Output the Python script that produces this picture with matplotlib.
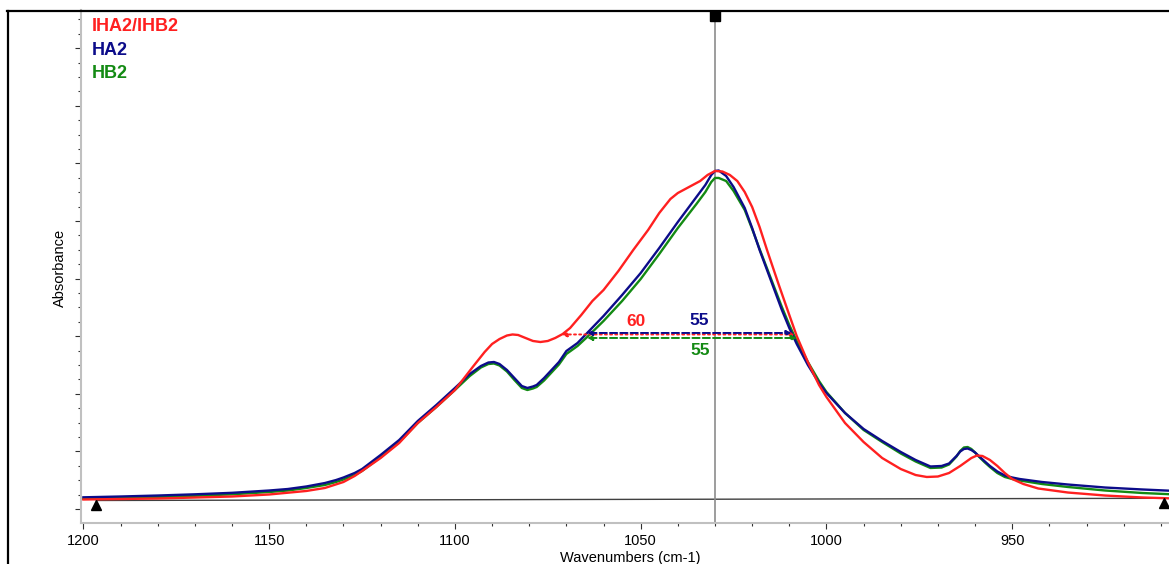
import matplotlib
matplotlib.use("Agg")
import matplotlib.pyplot as plt
from matplotlib.lines import Line2D
from matplotlib.ticker import MultipleLocator, FixedLocator

plt.rcParams['font.family'] = ['Liberation Sans', 'DejaVu Sans']

# --- spectra (wavenumber cm-1, absorbance a.u.) ---
wn_ha2 = [1200, 1190, 1180, 1170, 1160, 1150, 1145, 1140, 1135, 1132, 1130, 1127, 1125,
          1120, 1115, 1110, 1105, 1100, 1096, 1093, 1091, 1089.5, 1088, 1086, 1084, 1082,
          1080.5, 1079, 1078, 1076, 1074, 1072, 1070, 1067, 1064.4, 1060, 1055, 1050, 1045,
          1040, 1035, 1032.6, 1031, 1030, 1029, 1027, 1025, 1022, 1020, 1018, 1015, 1012,
          1010, 1008, 1005, 1002, 1000, 995, 990, 985, 980, 976, 972, 969, 967, 965, 964,
          963, 962, 961, 960, 959, 957.5, 956, 954, 952, 950, 948, 942, 935, 925, 915, 906]
abs_ha2 = [0.0203, 0.0217, 0.0234, 0.0255, 0.0281, 0.0321, 0.0347, 0.0391, 0.0451, 0.0503,
           0.0547, 0.0625, 0.0694, 0.0938, 0.1198, 0.1528, 0.1806, 0.2101, 0.2344, 0.2483,
           0.2543, 0.2552, 0.2517, 0.2413, 0.2274, 0.2135, 0.2101, 0.2127, 0.2153, 0.2274,
           0.2413, 0.2552, 0.2743, 0.2882, 0.3056, 0.3351, 0.3715, 0.4097, 0.4531, 0.4983,
           0.5417, 0.5625, 0.5799, 0.5868, 0.5877, 0.5781, 0.5590, 0.5226, 0.4878, 0.4497,
           0.3976, 0.3455, 0.3142, 0.2865, 0.2500, 0.2188, 0.2014, 0.1667, 0.1389, 0.1181,
           0.0990, 0.0851, 0.0738, 0.0747, 0.0790, 0.0920, 0.0998, 0.1042, 0.1050, 0.1024,
           0.0981, 0.0920, 0.0833, 0.0747, 0.0651, 0.0582, 0.0547, 0.0521, 0.0469, 0.0425,
           0.0373, 0.0339, 0.0313]

wn_hb2 = wn_ha2
abs_hb2 = [0.0177, 0.0191, 0.0208, 0.0229, 0.0255, 0.0295, 0.0321, 0.0365, 0.0417, 0.0469,
           0.0512, 0.0590, 0.0660, 0.0903, 0.1163, 0.1493, 0.1771, 0.2066, 0.2309, 0.2457,
           0.2517, 0.2526, 0.2491, 0.2387, 0.2240, 0.2101, 0.2066, 0.2092, 0.2118, 0.2231,
           0.2370, 0.2509, 0.2691, 0.2830, 0.2986, 0.3264, 0.3611, 0.3993, 0.4427, 0.4878,
           0.5295, 0.5503, 0.5677, 0.5747, 0.5747, 0.5694, 0.5521, 0.5191, 0.4861, 0.4514,
           0.4010, 0.3507, 0.3194, 0.2917, 0.2552, 0.2222, 0.2031, 0.1667, 0.1372, 0.1163,
           0.0964, 0.0825, 0.0712, 0.0720, 0.0773, 0.0911, 0.1007, 0.1068, 0.1076, 0.1042,
           0.0981, 0.0911, 0.0816, 0.0729, 0.0625, 0.0556, 0.0521, 0.0495, 0.0434, 0.0382,
           0.0321, 0.0278, 0.0252]

wn_iha2 = [1200, 1180, 1160, 1150, 1140, 1135, 1130, 1127, 1125, 1120, 1115, 1110, 1105,
           1100, 1095, 1092, 1090, 1088, 1086, 1084.5, 1083, 1081, 1079, 1077, 1075, 1073,
           1071, 1069, 1066, 1063, 1060, 1056, 1052, 1048, 1045, 1042, 1040, 1037, 1034,
           1032, 1030, 1028, 1026, 1024, 1022, 1020, 1018, 1016, 1013, 1010, 1008, 1005,
           1002, 1000, 995, 990, 985, 980, 976, 973, 970, 967, 964, 961, 959.5, 958, 956,
           954, 952, 950, 947, 943, 935, 925, 915, 906]
abs_iha2 = [0.0165, 0.0182, 0.0217, 0.0252, 0.0313, 0.0365, 0.0469, 0.0573, 0.0660, 0.0885,
            0.1146, 0.1493, 0.1771, 0.2066, 0.2483, 0.2726, 0.2865, 0.2951, 0.3012, 0.3030,
            0.3021, 0.2969, 0.2917, 0.2899, 0.2917, 0.2969, 0.3038, 0.3142, 0.3368, 0.3611,
            0.3802, 0.4132, 0.4497, 0.4844, 0.5139, 0.5382, 0.5486, 0.5590, 0.5694, 0.5799,
            0.5868, 0.5859, 0.5799, 0.5694, 0.5503, 0.5243, 0.4896, 0.4497, 0.3924, 0.3368,
            0.3003, 0.2552, 0.2153, 0.1944, 0.1493, 0.1163, 0.0885, 0.0694, 0.0590, 0.0556,
            0.0564, 0.0625, 0.0747, 0.0885, 0.0929, 0.0920, 0.0851, 0.0747, 0.0625, 0.0521,
            0.0434, 0.0356, 0.0286, 0.0234, 0.0200, 0.0182]

# --- band-width arrows (IHA2/IHB2, HA2, HB2) ---
fw_names = ["IHA2/IHB2", "HA2", "HB2"]
fw_left = [1071.3, 1064.4, 1064.4]
fw_right = [1008.4, 1009.4, 1008.0]
fw_level = [0.3030, 0.3056, 0.2969]
fw_text = ["60", "55", "55"]

# baseline points and cursor
base_wn = [1196.5, 909.2]
base_abs = [0.0148, 0.0186]
cursor_wn = 1030

c_red = "#ff2020"
c_navy = "#0c0c8a"
c_green = "#138a13"

fig = plt.figure(figsize=(11.69, 5.64), dpi=100)
ax = fig.add_axes([0.06903, 0.07270, 0.93097, 0.90957])

ax.set_xlim(1200.73, 907.8)
ax.set_ylim(-0.0243, 0.8663)

# baseline + markers
ax.plot(base_wn, base_abs, color="#404040", lw=1.0, zorder=1)
ax.plot(base_wn, [b - 0.0075 for b in base_abs], ls="none", marker="^", ms=6.5,
        color="black", zorder=5, clip_on=False)

# cursor line
ax.axvline(cursor_wn, color="#8c8c8c", lw=1.2, zorder=1)
ax.plot([cursor_wn], [0.856], marker="s", ms=7, color="black", zorder=6, clip_on=False)

ax.plot(wn_hb2, abs_hb2, color=c_green, lw=1.7, zorder=3)
ax.plot(wn_ha2, abs_ha2, color=c_navy, lw=1.7, zorder=3)
ax.plot(wn_iha2, abs_iha2, color=c_red, lw=1.7, zorder=4)

styles = [(c_red, ":"), (c_navy, "--"), (c_green, "--")]
for (col, ls), l, r, y in zip(styles, fw_left, fw_right, fw_level):
    ax.annotate("", xy=(r, y), xytext=(l, y),
                arrowprops=dict(arrowstyle="<|-|>", color=col, lw=1.4, ls=ls,
                                shrinkA=0, shrinkB=0, mutation_scale=7),
                zorder=5)

ax.text(1051.2, 0.3247, fw_text[0], color=c_red, fontsize=12.5, fontweight="bold",
        ha="center", va="center")
ax.text(1034.2, 0.3264, fw_text[1], color=c_navy, fontsize=12.5, fontweight="bold",
        ha="center", va="center")
ax.text(1033.9, 0.2760, fw_text[2], color=c_green, fontsize=12.5, fontweight="bold",
        ha="center", va="center")

# legend-like labels
for name, col, yy in zip(fw_names, [c_red, c_navy, c_green], [0.967, 0.922, 0.877]):
    ax.text(0.0104, yy, name, color=col, fontsize=13, fontweight="bold",
            ha="left", va="center", transform=ax.transAxes)

# axes styling
for s in ["top", "right"]:
    ax.spines[s].set_visible(False)
for s in ["left", "bottom"]:
    ax.spines[s].set_color("#c0c0c0")
    ax.spines[s].set_linewidth(1.5)

ax.xaxis.set_major_locator(FixedLocator([1200, 1150, 1100, 1050, 1000, 950]))
ax.xaxis.set_minor_locator(MultipleLocator(10))
ax.yaxis.set_major_locator(MultipleLocator(0.1))
ax.yaxis.set_minor_locator(MultipleLocator(0.025))
ax.yaxis.set_major_formatter(plt.NullFormatter())
ax.tick_params(axis="both", which="major", length=4, width=0.8, color="#303030",
               labelsize=10.5, pad=4)
ax.tick_params(axis="both", which="minor", length=2, width=0.8, color="#303030")

ax.set_xlabel("Wavenumbers (cm-1)", fontsize=10.5)
ax.set_ylabel("Absorbance", fontsize=10.5)
ax.xaxis.set_label_coords(0.5047, -0.0546)
ax.yaxis.set_label_coords(-0.0126, 0.497)

# outer black frame (left and top)
fig.add_artist(Line2D([7.5 / 1169, 7.5 / 1169], [0, (564 - 10.5) / 564],
                      transform=fig.transFigure, color="black", lw=1.6))
fig.add_artist(Line2D([7.0 / 1169, 1], [(564 - 10.5) / 564, (564 - 10.5) / 564],
                      transform=fig.transFigure, color="black", lw=1.6))

fig.savefig("out.png", dpi=100)
